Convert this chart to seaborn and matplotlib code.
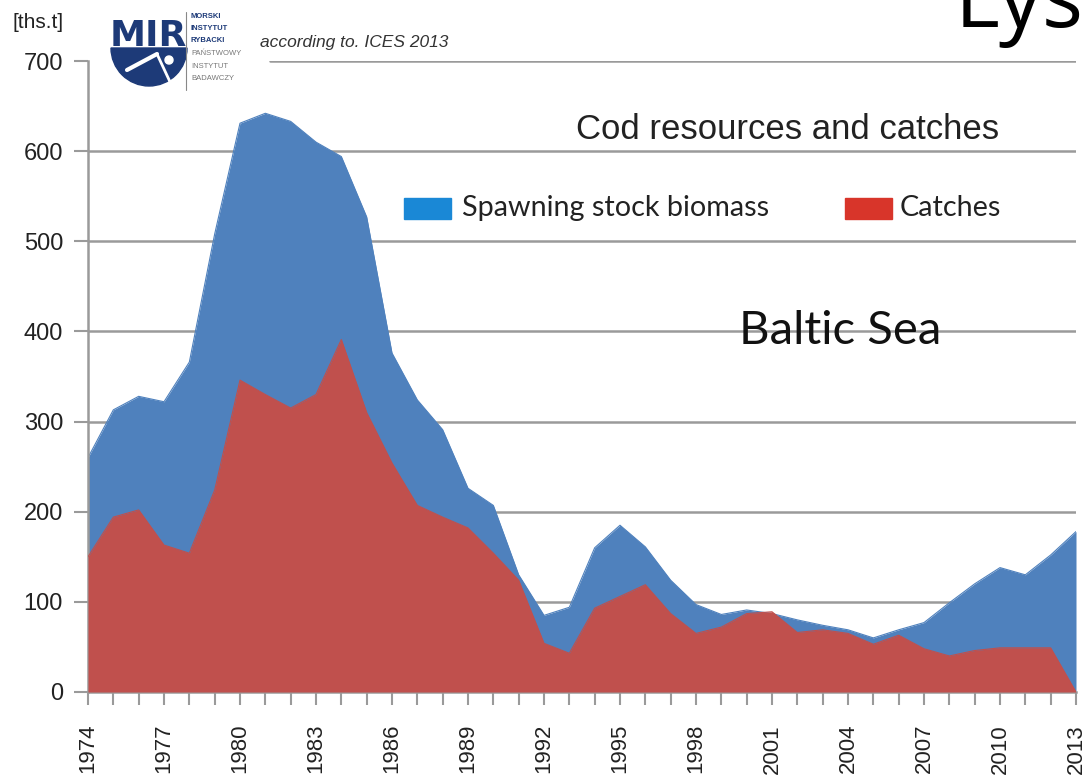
import numpy as np
import pandas as pd
import matplotlib
matplotlib.use("Agg")
import matplotlib.pyplot as plt
import seaborn as sns
from matplotlib.patches import Wedge, Rectangle
from matplotlib.ticker import MultipleLocator

years = list(range(1974, 2014))
ssb = [260, 313, 328, 322, 366, 508, 631, 642, 633, 610, 594, 527, 376, 324, 291, 226,
       207, 130, 85, 94, 160, 185, 161, 124, 97, 86, 91, 87, 80, 74, 69, 60,
       69, 77, 99, 120, 138, 130, 152, 178]
catches = [150, 194, 202, 163, 154, 224, 346, 330, 315, 330, 391, 310, 254, 207, 194, 182,
           154, 124, 54, 43, 93, 106, 119, 87, 65, 72, 87, 89, 66, 69, 65, 53,
           63, 48, 40, 46, 49, 49, 49, 0]
y_ticks = [0, 100, 200, 300, 400, 500, 600, 700]
x_label_years = list(range(1974, 2014, 3))
legend_labels = ["Spawning stock biomass", "Catches"]

df = pd.DataFrame({"year": years, "ssb": ssb, "catches": catches})

sns.set_theme(style="white")
plt.rcParams["font.family"] = ["Liberation Sans", "DejaVu Sans"]

BLUE = "#4f81bd"
RED = "#c0504d"
GRID = "#9a9a9a"

fig = plt.figure(figsize=(10.89, 7.84), dpi=100)
ax = fig.add_axes([88 / 1089, 92 / 784, (1076 - 88) / 1089, (692 - 61) / 784])

ax.fill_between(df["year"], 0, df["ssb"], color=BLUE, lw=0, zorder=2)
sns.lineplot(data=df, x="year", y="ssb", color=BLUE, lw=0.8, ax=ax, zorder=2)
ax.fill_between(df["year"], 0, df["catches"], color=RED, lw=0, zorder=3)
sns.lineplot(data=df, x="year", y="catches", color=RED, lw=0.8, ax=ax, zorder=3)

ax.set_xlim(1974, 2013)
ax.set_ylim(0, 700)
ax.set_xlabel("")
ax.set_ylabel("")

for v in y_ticks[1:-1]:
    ax.axhline(v, color=GRID, lw=1.8, zorder=1)
ax.axhline(700, xmin=(270 - 88) / (1076 - 88), xmax=1, color=GRID, lw=1.8, zorder=1)

ax.set_yticks(y_ticks)
ax.set_yticklabels([str(v) for v in y_ticks], fontsize=17, color="#222222")
ax.set_xticks(x_label_years)
ax.set_xticklabels([str(v) for v in x_label_years], rotation=90, fontsize=16, color="#222222")
ax.xaxis.set_minor_locator(MultipleLocator(1))
ax.tick_params(axis="x", which="both", direction="out", length=9, width=1.5, color=GRID,
               bottom=True, pad=14)
ax.tick_params(axis="y", which="both", direction="out", length=10, width=1.5, color=GRID,
               left=True, pad=8)

for s in ["top", "right"]:
    ax.spines[s].set_visible(False)
for s in ["left", "bottom"]:
    ax.spines[s].set_color(GRID)
    ax.spines[s].set_linewidth(1.8)

# texts
fig.text(12 / 1089, 1 - 22 / 784, "[ths.t]", fontsize=15, va="center", ha="left", color="#222222")
fig.text(260 / 1089, 1 - 42 / 784, "according to. ICES 2013", fontsize=12.5, style="italic",
         va="center", ha="left", color="#333333")
ax.text(2001.6, 624, "Cod resources and catches", fontsize=25, ha="center",
        va="center", color="#222222", zorder=5)
ax.text(2003.7, 400, "Baltic Sea", fontsize=34, ha="center", va="center", color="#111111",
        family=["Lato", "DejaVu Sans"], zorder=5)
fig.text(955 / 1089, 1 - 27 / 784, "Lys", fontsize=62, ha="left", va="baseline",
         color="#000000", family=["Open Sans", "DejaVu Sans"])

# legend
lc = ["#1a88d6", "#d8352a"]
lx = [404, 845]
tx = [462, 900]
for i in range(2):
    fig.patches.append(Rectangle((lx[i] / 1089, 1 - 219 / 784), 47 / 1089, 21 / 784,
                                 transform=fig.transFigure, color=lc[i], zorder=6))
    fig.text(tx[i] / 1089, 1 - 208 / 784, legend_labels[i], fontsize=20.7, va="center",
             ha="left", color="#222222", family=["Lato", "DejaVu Sans"])

# logo
NAVY = "#1d3a78"
fig.text(148 / 1089, 1 - 36 / 784, "MIR", fontsize=26, weight="bold", color=NAVY,
         ha="center", va="center", family=["DejaVu Sans"])
lax = fig.add_axes([105 / 1089, 1 - 100 / 784, 90 / 1089, 55 / 784])
lax.set_xlim(0, 90)
lax.set_ylim(0, 55)
lax.axis("off")
lax.add_patch(Wedge((44, 52), 38, 180, 360, color=NAVY))
lax.plot([22, 52], [30, 46], color="white", lw=3)
lax.plot([52, 66], [46, 16], color="white", lw=2)
lax.add_patch(Wedge((64, 40), 4, 0, 360, color="white"))
fig.add_artist(plt.Line2D([186 / 1089, 186 / 1089], [1 - 12 / 784, 1 - 90 / 784],
                          transform=fig.transFigure, color="#888888", lw=0.8))
for j, (w, c, b) in enumerate([("MORSKI", NAVY, "bold"), ("INSTYTUT", NAVY, "bold"),
                               ("RYBACKI", NAVY, "bold"), ("PAŃSTWOWY", "#777777", "normal"),
                               ("INSTYTUT", "#777777", "normal"), ("BADAWCZY", "#777777", "normal")]):
    fig.text(191 / 1089, 1 - (16 + j * 12.5) / 784, w, fontsize=5.5, color=c, weight=b,
             ha="left", va="center")

fig.savefig("out.png", dpi=100, facecolor="white")
